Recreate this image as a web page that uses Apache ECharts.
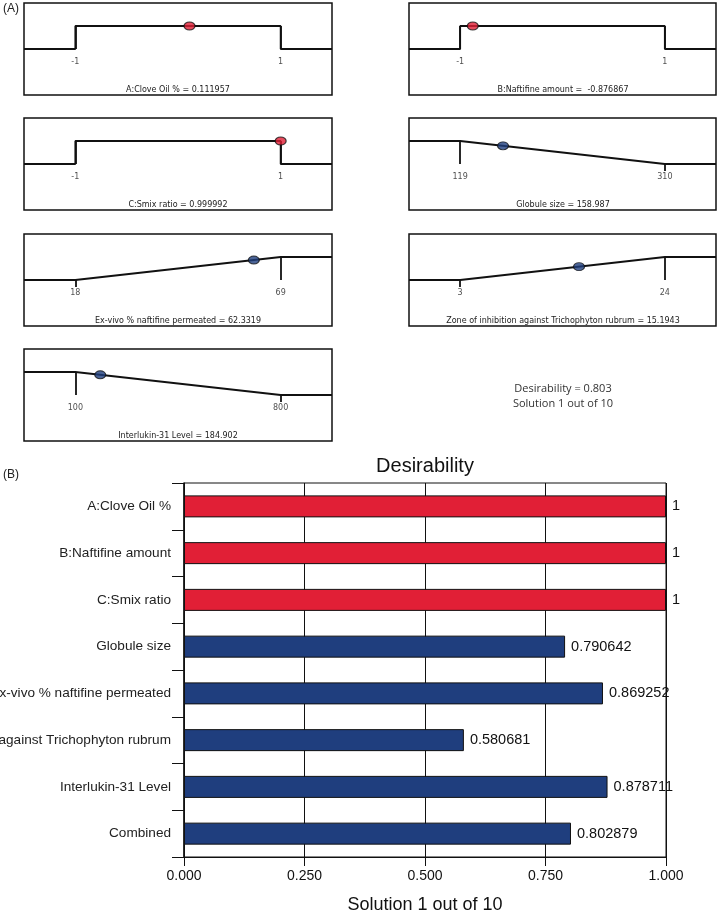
<!DOCTYPE html>
<html><head><meta charset="utf-8">
<script src="https://cdn.jsdelivr.net/npm/echarts@6/dist/echarts.min.js"></script>
<style>html,body{margin:0;padding:0;background:#fff}#c{width:720px;height:913px}</style>
</head><body><div id="c"></div>
<script>
// ---------- data: panel (A) ----------
const panelNames = ['A:Clove Oil %', 'B:Naftifine amount', 'C:Smix ratio', 'Globule size',
  'Ex-vivo % naftifine permeated', 'Zone of inhibition against Trichophyton rubrum', 'Interlukin-31 Level'];
const panelLow = [-1, -1, -1, 119, 18, 3, 100];
const panelHigh = [1, 1, 1, 310, 69, 24, 800];
const panelValue = [0.111957, -0.876867, 0.999992, 158.987, 62.3319, 15.1943, 184.902];
const panelValueText = ['0.111957', ' -0.876867', '0.999992', '158.987', '62.3319', '15.1943', '184.902'];
const panelDesirability = [1, 1, 1, 0.790642, 0.869252, 0.580681, 0.878711];
const panelGoal = ['range', 'range', 'range', 'minimize', 'maximize', 'maximize', 'minimize'];
const overallDesirabilityText = 'Desirability = 0.803';
const solutionText = 'Solution 1 out of 10';

// ---------- data: panel (B) ----------
const barCategories = ['A:Clove Oil %', 'B:Naftifine amount', 'C:Smix ratio', 'Globule size',
  'Ex-vivo % naftifine permeated', 'Zone of inhibition against Trichophyton rubrum', 'Interlukin-31 Level', 'Combined'];
const barValues = [1, 1, 1, 0.790642, 0.869252, 0.580681, 0.878711, 0.802879];
const barKinds = ['factor', 'factor', 'factor', 'response', 'response', 'response', 'response', 'response'];
const xTickInterval = 0.25;

// ---------- layout / style ----------
const RED = '#e11f36', BLUE = '#1f3e7e';
const panelLeft = [24, 409, 24, 409, 24, 409, 24];
const panelTop = [3, 3, 118, 118, 234, 234, 349];
const panelW = 308, panelH = 92;
const smallFont = '8px "DejaVu Sans"';

const grids = [], xAxes = [], yAxes = [], series = [], graphics = [];

panelNames.forEach((name, i) => {
  const low = panelLow[i], high = panelHigh[i], span = high - low;
  const min = low - 0.25 * span, max = high + 0.25 * span;
  grids.push({left: panelLeft[i], top: panelTop[i], width: panelW - (i % 2), height: panelH,
    outerBoundsMode: 'none', containLabel: false,
    show: true, borderColor: '#111', borderWidth: 1.5, backgroundColor: '#fff'});
  xAxes.push({type: 'value', gridIndex: i, min, max, show: false});
  yAxes.push({type: 'value', gridIndex: i, min: -2, max: 2, show: false});
  let curve, dLow, dHigh;
  if (panelGoal[i] === 'range') {
    curve = [[min, 0], [low, 0], [low, 1], [high, 1], [high, 0], [max, 0]]; dLow = 1; dHigh = 1;
  } else if (panelGoal[i] === 'minimize') {
    curve = [[min, 1], [low, 1], [high, 0], [max, 0]]; dLow = 1; dHigh = 0;
  } else {
    curve = [[min, 0], [low, 0], [high, 1], [max, 1]]; dLow = 0; dHigh = 1;
  }
  const tick = (x, d) => d > 0 ? [{coord: [x, d]}, {coord: [x, 0]}] : [{coord: [x, 0]}, {coord: [x, -0.3]}];
  series.push({
    type: 'line', xAxisIndex: i, yAxisIndex: i, data: curve, symbol: 'none', silent: true,
    lineStyle: {color: '#111', width: 1.8}, animation: false, z: 2,
    markLine: {silent: true, symbol: 'none', label: {show: false}, animation: false,
      lineStyle: {color: '#111', width: 1.8, type: 'solid'},
      data: [tick(low, dLow), tick(high, dHigh)]}
  });
  series.push({
    type: 'scatter', xAxisIndex: i, yAxisIndex: i, symbolSize: 1, silent: true, animation: false,
    itemStyle: {color: 'rgba(0,0,0,0)'},
    data: [[low, -0.57, String(low)], [high, -0.57, String(high)]],
    label: {show: true, position: 'inside', formatter: p => p.data[2],
      fontFamily: 'DejaVu Sans', fontSize: 8, color: '#222'}
  });
  series.push({
    type: 'scatter', xAxisIndex: i, yAxisIndex: i, symbol: 'circle', symbolSize: [11, 8], silent: true,
    animation: false, z: 5,
    itemStyle: {color: i < 3 ? RED : BLUE, borderColor: '#111', borderWidth: 1},
    data: [[panelValue[i], panelDesirability[i]]]
  });
  graphics.push({type: 'text', x: panelLeft[i] + panelW / 2, y: panelTop[i] + 87,
    style: {text: name + ' = ' + panelValueText[i], font: smallFont, fill: '#222',
      align: 'center', verticalAlign: 'middle', textAlign: 'center', textVerticalAlign: 'middle'}});
});

graphics.push({type: 'text', x: 563, y: 389, style: {text: overallDesirabilityText,
  font: '11px "Open Sans"', fill: '#333', align: 'center', verticalAlign: 'middle', textAlign: 'center', textVerticalAlign: 'middle'}});
graphics.push({type: 'text', x: 563, y: 404, style: {text: solutionText,
  font: '11px "Open Sans"', fill: '#333', align: 'center', verticalAlign: 'middle', textAlign: 'center', textVerticalAlign: 'middle'}});
graphics.push({type: 'text', x: 3, y: 9, style: {text: '(A)', font: '12px "Liberation Sans"', fill: '#222',
  align: 'left', verticalAlign: 'middle', textAlign: 'left', textVerticalAlign: 'middle'}});
graphics.push({type: 'text', x: 3, y: 475, style: {text: '(B)', font: '12px "Liberation Sans"', fill: '#222',
  align: 'left', verticalAlign: 'middle', textAlign: 'left', textVerticalAlign: 'middle'}});
graphics.push({type: 'text', x: 425, y: 466, style: {text: 'Desirability', font: '20px "Liberation Sans"', fill: '#111',
  align: 'center', verticalAlign: 'middle', textAlign: 'center', textVerticalAlign: 'middle'}});

// ---------- panel (B) bar chart ----------
const bi = panelNames.length;
grids.push({left: 184, right: 54, top: 483, bottom: 56, outerBoundsMode: 'none', containLabel: false,
  show: true, borderColor: '#111', borderWidth: 1});
xAxes.push({type: 'value', gridIndex: bi, min: 0, max: 1, interval: xTickInterval,
  axisLine: {show: true, lineStyle: {color: '#111', width: 1}},
  axisTick: {show: true, length: 9, lineStyle: {color: '#111'}},
  splitLine: {show: true, lineStyle: {color: '#111', width: 1}},
  axisLabel: {formatter: v => v.toFixed(3), fontFamily: 'Liberation Sans', fontSize: 14, color: '#111', margin: 12},
  name: solutionText, nameLocation: 'middle', nameGap: 39,
  nameTextStyle: {fontFamily: 'Liberation Sans', fontSize: 18, color: '#111'}});
yAxes.push({type: 'category', gridIndex: bi, data: barCategories, inverse: true,
  axisLine: {show: true, lineStyle: {color: '#111', width: 1.5}},
  axisTick: {show: true, length: 12, lineStyle: {color: '#111'}},
  axisLabel: {fontFamily: 'Liberation Sans', fontSize: 13.6, color: '#222', margin: 13, hideOverlap: false}});
series.push({type: 'bar', xAxisIndex: bi, yAxisIndex: bi, barWidth: 22, animation: false, z: 3,
  data: barValues.map((v, k) => ({value: v, itemStyle: {color: barKinds[k] === 'factor' ? RED : BLUE}})),
  itemStyle: {borderColor: '#111', borderWidth: 1},
  label: {show: true, position: 'right', distance: 6, formatter: p => String(p.value),
    fontFamily: 'Liberation Sans', fontSize: 14.5, color: '#111'}});

const chart = echarts.init(document.getElementById('c'), null, {renderer: 'canvas'});
chart.setOption({backgroundColor: '#fff', animation: false, grid: grids, xAxis: xAxes, yAxis: yAxes,
  series, graphic: graphics});
</script></body></html>
